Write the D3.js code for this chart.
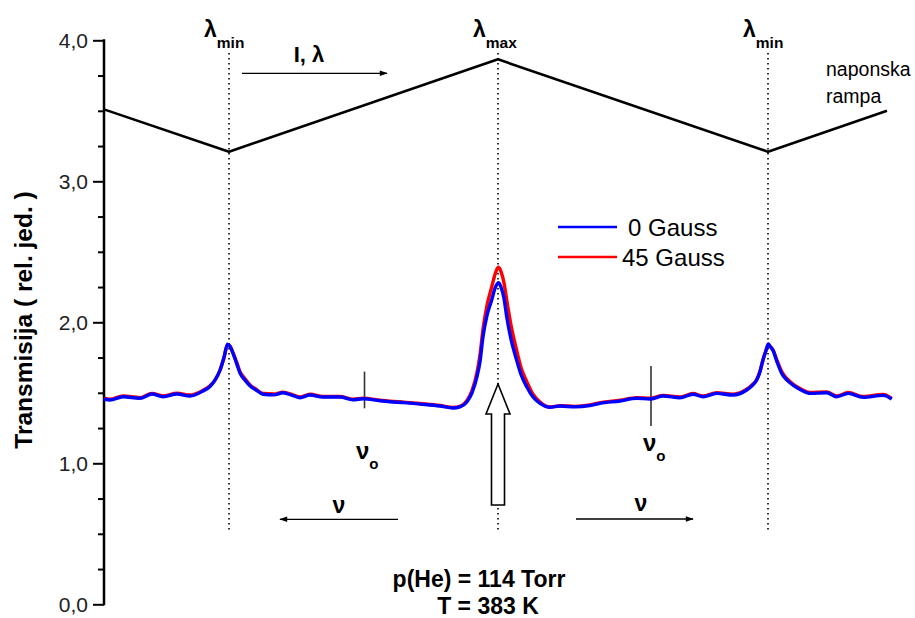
<!DOCTYPE html>
<html>
<head>
<meta charset="utf-8">
<script src="https://cdn.jsdelivr.net/npm/d3@7"></script>
<style>
  html, body { margin: 0; padding: 0; background: #fff; }
  svg { display: block; font-family: "Liberation Sans", Arimo, "DejaVu Sans", sans-serif; }
</style>
</head>
<body>
<svg id="chart" width="915" height="618"></svg>
<script>
// ---------- data ----------
// x: relative channel (sweep position), y: transmission (rel. units)
const blueX = [0,6,19,36,48,59,73,86,99,106,111,116,120,123.5,126,129,133,136,141,146,152,159,170,179,189,196,206,219,236,249,259,276,286,300,316,336,349,356,363,368,373,376,379,383,387.7,391,394.3,397,400,402.7,407,412.7,417,422.7,429,436,446,456,471,486,496,516,532.7,546,559,576,589,599,612.7,629,642.7,648,652.7,656,659,662,664.3,666,669,673,677.7,683,689,697,706,722.7,732.7,744.3,759,779.3,787.7];
const blueY = [1.456,1.449,1.472,1.461,1.491,1.472,1.491,1.477,1.513,1.545,1.59,1.66,1.75,1.845,1.83,1.78,1.70,1.64,1.59,1.55,1.52,1.49,1.485,1.50,1.48,1.465,1.484,1.47,1.47,1.45,1.458,1.444,1.437,1.43,1.42,1.406,1.392,1.40,1.437,1.50,1.614,1.72,1.898,2.05,2.158,2.24,2.28,2.25,2.17,2.04,1.88,1.73,1.63,1.543,1.47,1.425,1.397,1.406,1.40,1.41,1.425,1.442,1.461,1.456,1.477,1.465,1.49,1.472,1.496,1.484,1.52,1.55,1.59,1.65,1.733,1.80,1.846,1.83,1.80,1.72,1.638,1.59,1.555,1.52,1.496,1.50,1.472,1.496,1.468,1.482,1.456];
const redX = blueX;
const redY = [1.462,1.455,1.478,1.466,1.495,1.478,1.497,1.484,1.518,1.55,1.59,1.66,1.75,1.84,1.83,1.785,1.71,1.65,1.60,1.555,1.525,1.495,1.492,1.505,1.486,1.47,1.49,1.474,1.474,1.455,1.462,1.448,1.44,1.434,1.424,1.41,1.396,1.404,1.445,1.515,1.645,1.77,1.95,2.12,2.25,2.34,2.39,2.36,2.28,2.16,1.98,1.80,1.68,1.58,1.49,1.435,1.40,1.408,1.404,1.414,1.43,1.447,1.466,1.462,1.482,1.47,1.495,1.477,1.50,1.49,1.525,1.555,1.595,1.655,1.735,1.80,1.84,1.83,1.805,1.73,1.65,1.60,1.562,1.527,1.502,1.506,1.478,1.502,1.474,1.488,1.46];
const rampX = [0,125,394,664,783];
const rampY = [3.51,3.21,3.865,3.21,3.50];
const lambdaX = [125,394,664];
const lambdaLabels = ["min","max","min"];
const nu0X = [260.5,547];
const yTicks = [0,1,2,3,4];
const yTickLabels = ["0,0","1,0","2,0","3,0","4,0"];
const seriesNames = ["0 Gauss","45 Gauss"];
const seriesColors = ["#0000ff","#ff0000"];

// ---------- scales ----------
const svg = d3.select("#chart");
const x = d3.scaleLinear().domain([0,790]).range([104,894]);
const y = d3.scaleLinear().domain([0,4]).range([604.3,40.3]);

// ---------- y axis ----------
const axisG = svg.append("g").attr("transform","translate(104,0)");
axisG.call(d3.axisLeft(y).tickValues(d3.range(0,4.01,0.25)).tickSize(0).tickFormat(""));
axisG.select(".domain").remove();
axisG.append("line").attr("x1",0).attr("x2",0).attr("y1",y(0)+1).attr("y2",y(4)-1)
  .attr("stroke","#000").attr("stroke-width",2.5);
axisG.selectAll(".tick").each(function(d){
  const major = Math.abs(d - Math.round(d)) < 1e-6;
  d3.select(this).select("line").remove();
  d3.select(this).append("line").attr("x1",0).attr("x2", major ? -11 : -6)
    .attr("stroke","#000").attr("stroke-width",2);
});
axisG.selectAll(".major").data(yTicks).enter().append("text")
  .attr("x",-16).attr("y",d=>y(d)).attr("dy","0.36em")
  .attr("text-anchor","end").attr("font-size",21).attr("fill","#222")
  .text((d,i)=>yTickLabels[i]);

svg.append("text")
  .attr("transform","translate(32,320) rotate(-90)")
  .attr("text-anchor","middle").attr("font-size",24.5).attr("font-weight","bold")
  .text("Transmisija ( rel. jed. )");

// ---------- dotted verticals ----------
svg.selectAll(".vdot").data(lambdaX).enter().append("line")
  .attr("x1",d=>x(d)).attr("x2",d=>x(d)).attr("y1",53).attr("y2",531)
  .attr("stroke","#000").attr("stroke-width",1.6).attr("stroke-dasharray","1.6,3.4");

// lambda labels
lambdaX.forEach((lx,i)=>{
  const t = svg.append("text").attr("x",x(lx)-25).attr("y",37).attr("font-weight","bold");
  t.append("tspan").attr("font-size",23).text("λ");
  t.append("tspan").attr("font-size",15.5).attr("dy",11).text(lambdaLabels[i]);
});

// ---------- ramp ----------
svg.append("path").datum(rampX.map((d,i)=>[d,rampY[i]]))
  .attr("fill","none").attr("stroke","#000").attr("stroke-width",2.6).attr("stroke-linejoin","round")
  .attr("d", d3.line().x(d=>x(d[0])).y(d=>y(d[1])));

svg.append("text").attr("x",826).attr("y",76).attr("font-size",19.5).text("naponska");
svg.append("text").attr("x",826).attr("y",103).attr("font-size",19.5).text("rampa");

// ---------- arrow markers ----------
const defs = svg.append("defs");
defs.append("marker").attr("id","ah").attr("viewBox","0 0 10 10").attr("refX",9).attr("refY",5)
  .attr("markerWidth",9).attr("markerHeight",8).attr("markerUnits","userSpaceOnUse").attr("orient","auto")
  .append("path").attr("d","M0,1.5 L10,5 L0,8.5 Z").attr("fill","#000");

function arrow(x1,x2,yy){
  svg.append("line").attr("x1",x1).attr("x2",x2).attr("y1",yy).attr("y2",yy)
    .attr("stroke","#000").attr("stroke-width",1.3).attr("marker-end","url(#ah)");
}
arrow(242,387,73.3);
svg.append("text").attr("x",309).attr("y",62).attr("text-anchor","middle")
  .attr("font-size",22).attr("font-weight","bold").text("I, λ");

arrow(398,280,519.3);
arrow(576,693,519);
svg.append("text").attr("x",339).attr("y",513).attr("text-anchor","middle")
  .attr("font-size",23).attr("font-weight","bold").text("ν");
svg.append("text").attr("x",641).attr("y",511).attr("text-anchor","middle")
  .attr("font-size",23).attr("font-weight","bold").text("ν");

// ---------- ν0 markers ----------
const nuTop = [1.65,1.69], nuBot = [1.39,1.265];
nu0X.forEach((nx,i)=>{
  svg.append("line").attr("x1",x(nx)).attr("x2",x(nx)).attr("y1",y(nuTop[i])).attr("y2",y(nuBot[i]))
    .attr("stroke","#333").attr("stroke-width",1.6);
});
[[356,459],[643,451]].forEach(p=>{
  const t = svg.append("text").attr("x",p[0]).attr("y",p[1]).attr("font-weight","bold");
  t.append("tspan").attr("font-size",24).text("ν");
  t.append("tspan").attr("font-size",15).attr("dy",10).text("o");
});

// ---------- series ----------
const line = d3.line().curve(d3.curveMonotoneX).x(d=>x(d[0])).y(d=>y(d[1]));
svg.append("path").datum(redX.map((d,i)=>[d,redY[i]]))
  .attr("fill","none").attr("stroke",seriesColors[1]).attr("stroke-width",3.4).attr("d",line);
svg.append("path").datum(blueX.map((d,i)=>[d,blueY[i]]))
  .attr("fill","none").attr("stroke",seriesColors[0]).attr("stroke-width",3.4).attr("d",line);

// ---------- hollow arrow at λmax ----------
const ax = x(lambdaX[1]);
const tipY = y(1.562), headY = y(1.35), botY = y(0.704);
svg.append("path")
  .attr("d",`M${ax},${tipY} L${ax+12},${headY} L${ax+6.5},${headY} L${ax+6.5},${botY} L${ax-6.5},${botY} L${ax-6.5},${headY} L${ax-12},${headY} Z`)
  .attr("fill","#fff").attr("stroke","#000").attr("stroke-width",1.6).attr("stroke-linejoin","miter");

// ---------- legend ----------
const lg = svg.append("g");
[0,1].forEach(i=>{
  const yy = 227 + i*30;
  lg.append("line").attr("x1",558).attr("x2",617).attr("y1",yy).attr("y2",yy)
    .attr("stroke",seriesColors[i]).attr("stroke-width",2.6);
});
lg.append("text").attr("x",628).attr("y",236).attr("font-size",24).text(seriesNames[0]);
lg.append("text").attr("x",622).attr("y",266).attr("font-size",24).text(seriesNames[1]);

// ---------- bottom text ----------
svg.append("text").attr("x",479).attr("y",587).attr("text-anchor","middle")
  .attr("font-size",23).attr("font-weight","bold").text("p(He) = 114 Torr");
svg.append("text").attr("x",488).attr("y",614).attr("text-anchor","middle")
  .attr("font-size",23).attr("font-weight","bold").text("T = 383 K");
</script>
</body>
</html>
